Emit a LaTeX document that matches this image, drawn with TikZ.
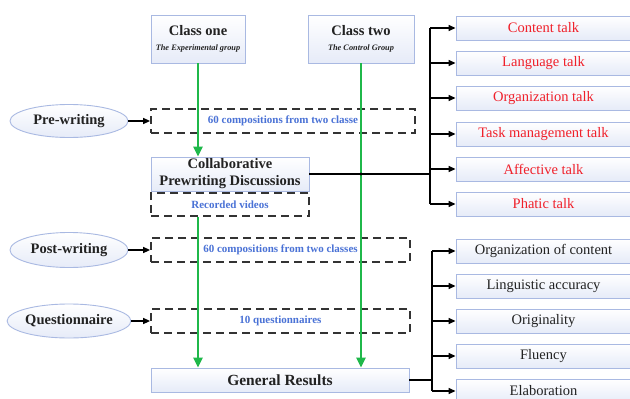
\documentclass[tikz,border=0pt]{standalone}
\usepackage{fontspec}
\setmainfont{Liberation Serif}
\usetikzlibrary{arrows.meta,shapes.geometric}
\definecolor{bord}{HTML}{A9B9E2}
\definecolor{boxfill}{HTML}{E6EBF8}
\definecolor{greenA}{HTML}{1FB84A}
\definecolor{blueA}{HTML}{4A72D6}
\definecolor{redA}{HTML}{F0202A}
\definecolor{dashA}{HTML}{333333}
\definecolor{txtA}{HTML}{222222}
\begin{document}
\begin{tikzpicture}[x=1pt,y=-1pt,
  box/.style={draw=bord, line width=0.9pt, top color=white, bottom color=boxfill, inner sep=0pt, align=center, text=txtA},
  oval/.style={ellipse, draw=bord, line width=0.9pt, top color=white, bottom color=boxfill, inner sep=0pt, font=\fontsize{14.5}{16}\selectfont\bfseries, text=txtA},
  dbox/.style={draw=dashA, dash pattern=on 8pt off 5pt, line width=1.8pt, inner sep=0pt, font=\fontsize{11}{13}\selectfont\bfseries, text=blueA},
  tbox/.style={box, minimum width=175pt, minimum height=24pt, font=\fontsize{14.5}{16}\selectfont, text=redA},
  rbox/.style={box, minimum width=175pt, minimum height=24pt, font=\fontsize{14.5}{16}\selectfont, text=txtA},
  arr/.style={-{Triangle[length=7pt,width=6pt]}, line width=1.5pt, black},
  garr/.style={-{Triangle[length=10pt,width=9pt]}, line width=2.5pt, greenA},
  conn/.style={line width=1.5pt, black}
]
\useasboundingbox (0,0) rectangle (630,399);
\clip (0,0) rectangle (630,399);
\fill[white] (0,0) rectangle (630,399);

% top class boxes
\node[box, minimum width=94pt, minimum height=48pt] (c1) at (198,39)
  {{\fontsize{14.5}{16}\selectfont\bfseries Class one}\\[3pt]{\fontsize{8.3}{10}\selectfont\bfseries\itshape The Experimental group}};
\node[box, minimum width=106pt, minimum height=48pt] (c2) at (361,39)
  {{\fontsize{14.5}{16}\selectfont\bfseries Class two}\\[3pt]{\fontsize{8.3}{10}\selectfont\bfseries\itshape The Control Group}};

% ellipses
\node[oval, minimum width=118pt, minimum height=33pt] (pre) at (69,121) {Pre-writing};
\node[oval, minimum width=118pt, minimum height=35pt] (post) at (69,250) {Post-writing};
\node[oval, minimum width=118pt, minimum height=34pt] (quest) at (69,321) {Questionnaire};

% dashed boxes
\node[dbox, minimum width=264pt, minimum height=24pt] (d1) at (283,121) {60 compositions from two classe};
\node[dbox, minimum width=259pt, minimum height=24pt] (d2) at (280.5,250) {60 compositions from two classes};
\node[dbox, minimum width=259pt, minimum height=24pt] (d3) at (280.5,321) {10 questionnaires};

% collaborative
\node[box, minimum width=158pt, minimum height=34pt, font=\fontsize{14.5}{17}\selectfont\bfseries] (collab) at (230,174)
  {Collaborative\\Prewriting Discussions};
\node[dbox, minimum width=158pt, minimum height=23pt] (rec) at (230,204.5) {Recorded videos};

% general results
\node[box, minimum width=258pt, minimum height=24pt, font=\fontsize{15.5}{17}\selectfont\bfseries] (gr) at (280,380) {General Results};

% right top boxes
\node[tbox] (t1) at (543.5,28) {Content talk};
\node[tbox] (t2) at (543.5,63) {Language talk};
\node[tbox] (t3) at (543.5,98) {Organization talk};
\node[tbox] (t4) at (543.5,134) {Task management talk};
\node[tbox] (t5) at (543.5,169) {Affective talk};
\node[tbox] (t6) at (543.5,204) {Phatic talk};

% right bottom boxes
\node[rbox] (b1) at (543.5,251) {Organization of content};
\node[rbox] (b2) at (543.5,286) {Linguistic accuracy};
\node[rbox] (b3) at (543.5,321) {Originality};
\node[rbox] (b4) at (543.5,356) {Fluency};
\node[rbox] (b5) at (543.5,391) {Elaboration};

% ellipse arrows
\draw[arr] (pre.east) -- (d1.west);
\draw[arr] (post.east) -- (d2.west);
\draw[arr] (quest.east) -- (d3.west);

% green arrows
\draw[garr] (c1.south) -- (c1.south |- collab.north);
\draw[garr] (c1.south |- rec.south) -- (c1.south |- gr.north);
\draw[garr] (c2.south) -- (c2.south |- gr.north);

% top branch
\coordinate (j1) at (430,174);
\draw[conn] (collab.east) -- (j1);
\fill (c2.south |- j1) circle (1.6pt);
\draw[conn] (j1 |- t1) -- (j1 |- t6);
\foreach \t in {t1,t2,t3,t4,t5,t6} \draw[arr] (j1 |- \t) -- (\t.west);

% bottom branch
\coordinate (j2) at (432,380);
\draw[conn] (gr.east) -- (j2);
\draw[conn] (j2 |- b1) -- (j2 |- b5);
\foreach \b in {b1,b2,b3,b4,b5} \draw[arr] (j2 |- \b) -- (\b.west);
\end{tikzpicture}
\end{document}
